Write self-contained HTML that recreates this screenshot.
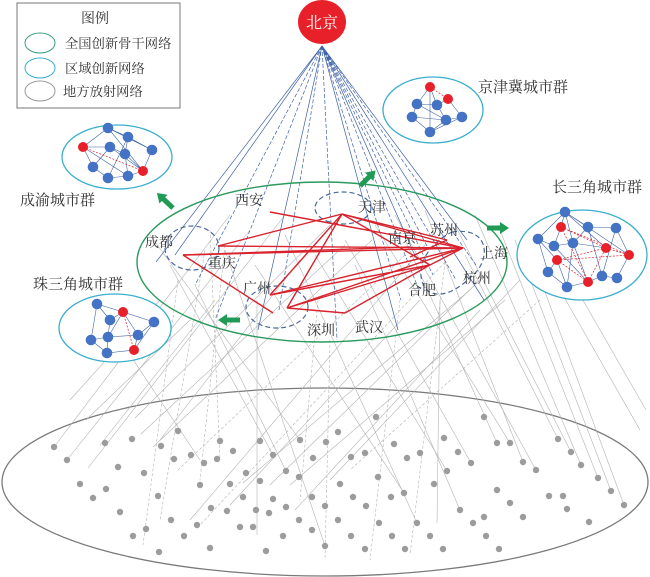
<!DOCTYPE html>
<html><head><meta charset="utf-8"><style>
html,body{margin:0;padding:0;background:#fff;}
svg{display:block;}
text{font-family:"Liberation Serif","Noto Serif CJK SC",serif;fill:#333;}
</style></head><body>
<svg width="650" height="577" viewBox="0 0 650 577" xmlns="http://www.w3.org/2000/svg">
<!-- bottom ellipse -->
<ellipse cx="325" cy="482" rx="323" ry="94" fill="none" stroke="#7a7a7a" stroke-width="1.3"/>
<!-- grey lines -->
<g stroke="#b3b3b3" stroke-width="0.6" fill="none">
<line x1="230" y1="215" x2="54" y2="447"/><line x1="250" y1="230" x2="67" y2="460"/>
<line x1="215" y1="300" x2="100" y2="445"/><line x1="285" y1="215" x2="88" y2="468"/>
<line x1="330" y1="225" x2="135" y2="418"/><line x1="345" y1="245" x2="141" y2="434"/>
<line x1="372" y1="240" x2="153" y2="447"/><line x1="300" y1="260" x2="160" y2="440"/>
<line x1="425" y1="245" x2="190" y2="520"/><line x1="470" y1="290" x2="243" y2="483"/>
<line x1="490" y1="270" x2="270" y2="485"/><line x1="505" y1="300" x2="290" y2="485"/>
<line x1="420" y1="300" x2="230" y2="505"/><line x1="520" y1="280" x2="330" y2="480"/>
<line x1="480" y1="310" x2="295" y2="510"/><line x1="160" y1="300" x2="70" y2="400"/>
<line x1="190" y1="320" x2="86" y2="420"/>
<line x1="150" y1="235" x2="300" y2="440"/><line x1="170" y1="265" x2="273" y2="455"/>
<line x1="195" y1="285" x2="286" y2="471"/><line x1="225" y1="250" x2="325" y2="546"/>
<line x1="255" y1="265" x2="404" y2="493"/><line x1="285" y1="235" x2="417" y2="523"/>
<line x1="315" y1="255" x2="447" y2="471"/><line x1="345" y1="240" x2="471" y2="463"/>
<line x1="375" y1="225" x2="510" y2="443"/><line x1="395" y1="215" x2="536" y2="470"/>
<line x1="425" y1="210" x2="523" y2="462"/><line x1="455" y1="225" x2="571" y2="452"/>
<line x1="475" y1="215" x2="581" y2="465"/><line x1="498" y1="225" x2="598" y2="478"/>
<line x1="515" y1="240" x2="611" y2="491"/><line x1="535" y1="265" x2="624" y2="505"/>
<line x1="465" y1="255" x2="558" y2="439"/><line x1="405" y1="240" x2="497" y2="443"/>
<line x1="355" y1="265" x2="460" y2="510"/><line x1="120" y1="340" x2="200" y2="460"/>
<line x1="560" y1="290" x2="640" y2="430"/><line x1="580" y1="295" x2="646" y2="410"/>
<line x1="257" y1="300" x2="257" y2="535"/><line x1="440" y1="300" x2="437" y2="523"/>
</g>
<g stroke="#b3b3b3" stroke-width="0.6" fill="none" stroke-dasharray="3,2">
<line x1="405" y1="255" x2="178" y2="470"/><line x1="445" y1="262" x2="200" y2="525"/>
<line x1="540" y1="300" x2="350" y2="470"/>
<line x1="178" y1="280" x2="143" y2="545"/><line x1="205" y1="250" x2="160" y2="520"/>
<line x1="225" y1="245" x2="200" y2="480"/><line x1="318" y1="300" x2="300" y2="500"/>
<line x1="400" y1="300" x2="370" y2="560"/><line x1="445" y1="262" x2="410" y2="555"/>
<line x1="330" y1="340" x2="325" y2="560"/><line x1="210" y1="230" x2="220" y2="460"/>
</g>
<!-- dots -->
<g fill="#9c9c9c">
<circle cx="54" cy="447" r="3.2"/><circle cx="67" cy="460" r="3.2"/><circle cx="105" cy="443" r="3.2"/><circle cx="132" cy="439" r="3.2"/>
<circle cx="178" cy="431" r="3.2"/><circle cx="161" cy="446" r="3.2"/><circle cx="118" cy="467" r="3.2"/><circle cx="144" cy="473" r="3.2"/>
<circle cx="174" cy="459" r="3.2"/><circle cx="191" cy="455" r="3.2"/><circle cx="204" cy="463" r="3.2"/><circle cx="217" cy="459" r="3.2"/>
<circle cx="220" cy="441" r="3.2"/><circle cx="233" cy="451" r="3.2"/><circle cx="260" cy="441" r="3.2"/><circle cx="273" cy="455" r="3.2"/>
<circle cx="300" cy="440" r="3.2"/><circle cx="326" cy="442" r="3.2"/><circle cx="313" cy="458" r="3.2"/><circle cx="286" cy="471" r="3.2"/>
<circle cx="299" cy="477" r="3.2"/><circle cx="260" cy="481" r="3.2"/><circle cx="246" cy="473" r="3.2"/><circle cx="230" cy="484" r="3.2"/>
<circle cx="200" cy="485" r="3.2"/><circle cx="80" cy="484" r="3.2"/><circle cx="106" cy="489" r="3.2"/><circle cx="93" cy="498" r="3.2"/>
<circle cx="158" cy="496" r="3.2"/><circle cx="120" cy="512" r="3.2"/><circle cx="243" cy="497" r="3.2"/><circle cx="273" cy="499" r="3.2"/>
<circle cx="286" cy="507" r="3.2"/><circle cx="312" cy="497" r="3.2"/><circle cx="325" cy="506" r="3.2"/><circle cx="211" cy="508" r="3.2"/>
<circle cx="227" cy="511" r="3.2"/><circle cx="256" cy="510" r="3.2"/><circle cx="269" cy="513" r="3.2"/><circle cx="299" cy="520" r="3.2"/>
<circle cx="171" cy="520" r="3.2"/><circle cx="197" cy="525" r="3.2"/><circle cx="146" cy="529" r="3.2"/><circle cx="133" cy="536" r="3.2"/>
<circle cx="184" cy="536" r="3.2"/><circle cx="240" cy="527" r="3.2"/><circle cx="253" cy="527" r="3.2"/><circle cx="312" cy="530" r="3.2"/>
<circle cx="283" cy="536" r="3.2"/><circle cx="325" cy="546" r="3.2"/><circle cx="159" cy="552" r="3.2"/><circle cx="210" cy="548" r="3.2"/>
<circle cx="266" cy="551" r="3.2"/>
<circle cx="376" cy="417" r="3.2"/><circle cx="338" cy="432" r="3.2"/><circle cx="351" cy="457" r="3.2"/><circle cx="365" cy="453" r="3.2"/>
<circle cx="394" cy="444" r="3.2"/><circle cx="407" cy="458" r="3.2"/><circle cx="420" cy="453" r="3.2"/><circle cx="444" cy="438" r="3.2"/>
<circle cx="458" cy="452" r="3.2"/><circle cx="471" cy="463" r="3.2"/><circle cx="484" cy="417" r="3.2"/><circle cx="497" cy="443" r="3.2"/>
<circle cx="510" cy="443" r="3.2"/><circle cx="523" cy="462" r="3.2"/><circle cx="536" cy="470" r="3.2"/><circle cx="558" cy="439" r="3.2"/>
<circle cx="571" cy="452" r="3.2"/><circle cx="581" cy="465" r="3.2"/><circle cx="598" cy="478" r="3.2"/><circle cx="611" cy="491" r="3.2"/>
<circle cx="624" cy="505" r="3.2"/><circle cx="378" cy="477" r="3.2"/><circle cx="340" cy="484" r="3.2"/><circle cx="447" cy="471" r="3.2"/>
<circle cx="434" cy="484" r="3.2"/><circle cx="353" cy="497" r="3.2"/><circle cx="366" cy="506" r="3.2"/><circle cx="391" cy="497" r="3.2"/>
<circle cx="404" cy="493" r="3.2"/><circle cx="497" cy="490" r="3.2"/><circle cx="510" cy="503" r="3.2"/><circle cx="549" cy="496" r="3.2"/>
<circle cx="563" cy="496" r="3.2"/><circle cx="567" cy="509" r="3.2"/><circle cx="589" cy="522" r="3.2"/><circle cx="523" cy="517" r="3.2"/>
<circle cx="460" cy="510" r="3.2"/><circle cx="484" cy="517" r="3.2"/><circle cx="473" cy="523" r="3.2"/><circle cx="338" cy="520" r="3.2"/>
<circle cx="379" cy="523" r="3.2"/><circle cx="417" cy="523" r="3.2"/><circle cx="351" cy="536" r="3.2"/><circle cx="392" cy="536" r="3.2"/>
<circle cx="430" cy="536" r="3.2"/><circle cx="486" cy="536" r="3.2"/><circle cx="365" cy="549" r="3.2"/><circle cx="405" cy="549" r="3.2"/>
<circle cx="443" cy="549" r="3.2"/><circle cx="499" cy="549" r="3.2"/>
</g>
<!-- blue lines from Beijing -->
<g stroke="#3f62a8" stroke-width="0.7" fill="none">
<line x1="322" y1="46" x2="156" y2="262"/><line x1="322" y1="46" x2="175" y2="255"/>
<line x1="322" y1="46" x2="258" y2="330"/><line x1="322" y1="46" x2="398" y2="330"/>
<line x1="322" y1="46" x2="417" y2="260"/><line x1="322" y1="46" x2="467" y2="240"/>
<line x1="322" y1="46" x2="484" y2="300"/>
</g>
<g stroke="#3f62a8" stroke-width="0.7" fill="none" stroke-dasharray="4,2">
<line x1="322" y1="46" x2="195" y2="285"/><line x1="322" y1="46" x2="215" y2="320"/>
<line x1="322" y1="46" x2="279" y2="310"/><line x1="322" y1="46" x2="337" y2="340"/>
<line x1="322" y1="46" x2="401" y2="300"/><line x1="322" y1="46" x2="419" y2="290"/>
<line x1="322" y1="46" x2="433" y2="275"/><line x1="322" y1="46" x2="429" y2="250"/>
<line x1="322" y1="46" x2="456" y2="280"/><line x1="322" y1="46" x2="476" y2="265"/>
</g>
<!-- green national ellipse -->
<ellipse cx="322" cy="262" rx="185" ry="80" fill="none" stroke="#2a9a5c" stroke-width="1.4"/>
<!-- dashed city group ellipses -->
<g fill="none" stroke="#4a6a9a" stroke-width="1.2" stroke-dasharray="5,3">
<ellipse cx="192" cy="248" rx="27" ry="22"/>
<ellipse cx="277" cy="307" rx="31" ry="21"/>
<ellipse cx="343" cy="208" rx="28" ry="16"/>
<path d="M452,232 C492,226 490,262 472,276 C460,288 442,300 428,291 C414,278 420,248 452,232"/>
</g>
<!-- red backbone lines -->
<g stroke="#d8222c" stroke-width="1.4" fill="none">
<line x1="270" y1="212" x2="463" y2="248"/>
<line x1="218" y1="246" x2="463" y2="248"/>
<line x1="218" y1="246" x2="342" y2="214"/>
<line x1="183" y1="255" x2="463" y2="248"/>
<line x1="183" y1="255" x2="410" y2="247"/>
<line x1="183" y1="255" x2="273" y2="313"/>
<line x1="342" y1="214" x2="270" y2="295"/>
<line x1="342" y1="214" x2="287" y2="308"/>
<line x1="342" y1="214" x2="463" y2="248"/>
<line x1="342" y1="214" x2="430" y2="265"/>
<line x1="342" y1="214" x2="447" y2="240"/>
<line x1="270" y1="295" x2="463" y2="248"/>
<line x1="270" y1="295" x2="430" y2="265"/>
<line x1="287" y1="308" x2="463" y2="248"/>
<line x1="287" y1="308" x2="430" y2="265"/>
<line x1="287" y1="308" x2="345" y2="313"/>
<line x1="345" y1="313" x2="430" y2="265"/>
<line x1="447" y1="240" x2="410" y2="257"/>
<line x1="430" y1="265" x2="463" y2="248"/>
</g>
<!-- green arrows -->
<g fill="#1f9b55">
<polygon transform="translate(487,228)" points="0,-2.5 13,-2.5 13,-6 22,0 13,6 13,2.5 0,2.5"/>
<polygon transform="translate(240,320) rotate(180)" points="0,-2.5 13,-2.5 13,-6 22,0 13,6 13,2.5 0,2.5"/>
<polygon transform="translate(173,208) rotate(223)" points="0,-2.5 13,-2.5 13,-6 22,0 13,6 13,2.5 0,2.5"/>
<polygon transform="translate(360,186) rotate(-45)" points="0,-2.5 13,-2.5 13,-6 22,0 13,6 13,2.5 0,2.5"/>
</g>
<!-- regional cluster ellipses -->
<g fill="#fff" stroke="#3aaecd" stroke-width="1.3">
<ellipse cx="433" cy="110" rx="50" ry="33"/>
<ellipse cx="117" cy="157" rx="55" ry="32"/>
<ellipse cx="582" cy="255" rx="65" ry="45"/>
<ellipse cx="115" cy="328" rx="56" ry="34"/>
</g>
<!-- cluster edges -->
<g stroke="#3f62a8" stroke-width="0.6" fill="none">
<path d="M430,87L417,104M430,87L437,105M430,87L430,132M448,99L462,117M448,99L437,105M417,104L412,117M417,104L437,105M412,117L430,132M412,117L446,120M437,105L446,120M446,120L462,117M462,117L430,132M417,104L446,120M430,132L446,120"/>
<path d="M83,147L108,128M83,147L110,147M83,147L93,167M83,147L128,176M108,128L128,137M108,128L152,150M128,137L152,150M128,137L125,154M110,147L125,154M110,147L143,171M125,154L143,171M152,150L143,171M93,167L108,178M108,178L128,176M128,176L143,171M108,128L143,171M128,137L108,178M110,147L93,167M125,154L128,176"/>
<path d="M97,304L123,312M97,304L110,320M97,304L91,340M123,312L110,320M123,312L154,322M123,312L108,337M123,312L138,335M154,322L138,335M154,322L134,350M91,340L108,337M91,340L107,353M108,337L138,335M108,337L107,353M138,335L134,350M107,353L134,350M110,320L108,337"/>
<path d="M565,212L561,227M565,212L588,227M565,212L538,239M565,212L573,243M565,212L606,248M588,227L616,228M588,227L573,243M616,228L629,255M616,228L602,276M538,239L554,246M538,239L548,272M538,239L557,260M554,246L573,243M554,246L588,282M573,243L606,248M573,243L567,287M557,260L548,272M548,272L567,287M602,276L617,278M617,278L629,255M567,287L588,282M588,282L602,276M588,227L602,276M561,227L554,246M557,260L567,287M573,243L588,282M565,212L629,255"/>
</g>
<g stroke="#d8222c" stroke-width="0.7" fill="none" stroke-dasharray="2,1.5">
<path d="M430,87L448,99M83,147L143,171M123,312L134,350M561,227L606,248M561,227L629,255M561,227L588,282M606,248L629,255M606,248L557,260M557,260L629,255M557,260L588,282M588,282L606,248"/>
</g>
<!-- cluster nodes -->
<g fill="#4472c4">
<circle cx="417" cy="104" r="5.3"/><circle cx="437" cy="105" r="5.3"/><circle cx="412" cy="117" r="5.3"/><circle cx="446" cy="120" r="5.3"/><circle cx="462" cy="117" r="5.3"/><circle cx="430" cy="132" r="5.3"/>
<circle cx="108" cy="128" r="5.3"/><circle cx="128" cy="137" r="5.3"/><circle cx="110" cy="147" r="5.3"/><circle cx="125" cy="154" r="5.3"/><circle cx="152" cy="150" r="5.3"/><circle cx="93" cy="167" r="5.3"/><circle cx="108" cy="178" r="5.3"/><circle cx="128" cy="176" r="5.3"/>
<circle cx="97" cy="304" r="5.3"/><circle cx="110" cy="320" r="5.3"/><circle cx="154" cy="322" r="5.3"/><circle cx="91" cy="340" r="5.3"/><circle cx="108" cy="337" r="5.3"/><circle cx="138" cy="335" r="5.3"/><circle cx="107" cy="353" r="5.3"/>
<circle cx="565" cy="212" r="5.3"/><circle cx="588" cy="227" r="5.3"/><circle cx="616" cy="228" r="5.3"/><circle cx="538" cy="239" r="5.3"/><circle cx="554" cy="246" r="5.3"/><circle cx="573" cy="243" r="5.3"/><circle cx="548" cy="272" r="5.3"/><circle cx="602" cy="276" r="5.3"/><circle cx="617" cy="278" r="5.3"/><circle cx="567" cy="287" r="5.3"/>
</g>
<g fill="#e8202a">
<circle cx="430" cy="87" r="5"/><circle cx="448" cy="99" r="5"/>
<circle cx="83" cy="147" r="5"/><circle cx="143" cy="171" r="5"/>
<circle cx="123" cy="312" r="5"/><circle cx="134" cy="350" r="5"/>
<circle cx="561" cy="227" r="5"/><circle cx="606" cy="248" r="5"/><circle cx="629" cy="255" r="5"/><circle cx="557" cy="260" r="5"/><circle cx="588" cy="282" r="5"/>
</g>
<!-- Beijing -->
<ellipse cx="322" cy="22" rx="24" ry="22" fill="#e8202a"/>
<text x="322" y="28" font-size="16" text-anchor="middle" style="fill:#fff">北京</text>
<!-- legend -->
<rect x="17" y="3" width="163" height="105" fill="#fff" stroke="#777" stroke-width="1"/>
<text x="95" y="23" font-size="14" text-anchor="middle">图例</text>
<ellipse cx="40" cy="43" rx="15" ry="10" fill="none" stroke="#3aa07e" stroke-width="1"/>
<ellipse cx="40" cy="68" rx="15" ry="10" fill="none" stroke="#3aaecd" stroke-width="1"/>
<ellipse cx="40" cy="91" rx="15" ry="10" fill="none" stroke="#999" stroke-width="1"/>
<text x="65" y="48" font-size="13.3">全国创新骨干网络</text>
<text x="65" y="73" font-size="13.3">区域创新网络</text>
<text x="63" y="96" font-size="13.3">地方放射网络</text>
<!-- cluster labels -->
<text x="478" y="92" font-size="15">京津冀城市群</text>
<text x="20" y="205" font-size="15">成渝城市群</text>
<text x="552" y="192" font-size="15">长三角城市群</text>
<text x="33" y="289" font-size="15">珠三角城市群</text>
<!-- city labels -->
<g font-size="14">
<text x="235" y="205">西安</text>
<text x="145" y="247">成都</text>
<text x="208" y="268">重庆</text>
<text x="243" y="293">广州</text>
<text x="307" y="335">深圳</text>
<text x="358" y="212">天津</text>
<text x="388" y="243">南京</text>
<text x="430" y="235">苏州</text>
<text x="480" y="258">上海</text>
<text x="463" y="283">杭州</text>
<text x="408" y="295">合肥</text>
<text x="355" y="332">武汉</text>
</g>
</svg>
</body></html>
